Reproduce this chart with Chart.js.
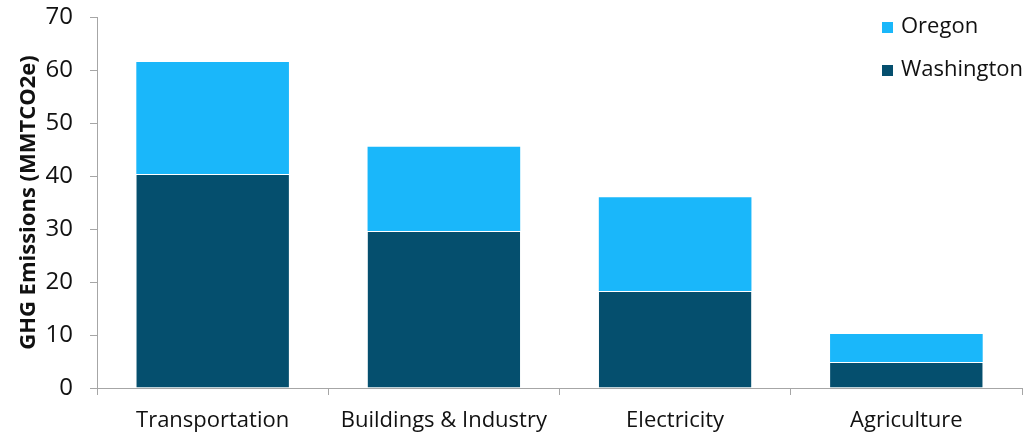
<!DOCTYPE html>
<html>
<head>
<meta charset="utf-8">
<script src="https://cdn.jsdelivr.net/npm/chart.js@4"></script>
<style>
  html, body { margin: 0; padding: 0; background: #fff; overflow: hidden; }
</style>
</head>
<body>
<canvas id="chart" width="1032" height="435"></canvas>
<script>
// ===== Datos =====
const sectors = ['Transportation', 'Buildings & Industry', 'Electricity', 'Agriculture'];
const washington = [40.4, 29.6, 18.3, 4.9];
const oregon = [21.1, 15.9, 17.7, 5.3];
const yTicks = [0, 10, 20, 30, 40, 50, 60, 70];

const FONT = '"Open Sans", sans-serif';
const axisGrey = '#a6a6a6';
const textColor = '#111';

// leyenda dibujada a mano, arriba a la derecha
const legendPlugin = {
  id: 'sideLegend',
  afterDraw(chart) {
    const ctx = chart.ctx;
    const items = [
      { text: 'Oregon', color: '#1ab7fa' },
      { text: 'Washington', color: '#054f6e' }
    ];
    ctx.save();
    ctx.font = '22px ' + FONT;
    ctx.textBaseline = 'middle';
    items.forEach((it, i) => {
      const y = 27 + i * 43;
      ctx.fillStyle = it.color;
      ctx.fillRect(882, y - 5, 11, 11);
      ctx.fillStyle = textColor;
      ctx.fillText(it.text, 901, y);
    });
    ctx.restore();
  }
};

new Chart(document.getElementById('chart').getContext('2d'), {
  type: 'bar',
  data: {
    labels: sectors,
    datasets: [
      { label: 'Washington', data: washington, backgroundColor: '#054f6e',
        borderColor: '#ffffff', borderWidth: { top: 1, left: 0, right: 0, bottom: 0 }, borderSkipped: false,
        categoryPercentage: 1, barPercentage: 0.66 },
      { label: 'Oregon', data: oregon, backgroundColor: '#1ab7fa',
        borderWidth: 0, categoryPercentage: 1, barPercentage: 0.66 }
    ]
  },
  options: {
    responsive: false,
    animation: false,
    layout: { padding: { top: 17, right: 10, left: 0, bottom: 0 } },
    plugins: { legend: { display: false }, tooltip: { enabled: false } },
    scales: {
      x: {
        stacked: true,
        offset: true,
        grid: { offset: true, drawOnChartArea: false, drawTicks: true, tickLength: 7, color: axisGrey },
        border: { color: axisGrey, width: 1 },
        ticks: { font: { family: FONT, size: 22 }, color: textColor, padding: 13, maxRotation: 0, autoSkip: false },
        afterFit(axis) { axis.height = 47; }
      },
      y: {
        stacked: true,
        min: 0,
        max: 70,
        afterBuildTicks(axis) { axis.ticks = yTicks.map(v => ({ value: v })); },
        grid: { drawOnChartArea: false, drawTicks: true, tickLength: 7, color: axisGrey },
        border: { color: axisGrey, width: 1 },
        ticks: { font: { family: FONT, size: 24 }, color: textColor, padding: 17 },
        title: { display: true, text: 'GHG Emissions (MMTCO2e)', font: { family: FONT, size: 22, weight: 'bold' }, color: textColor, padding: { top: 16, bottom: 0 } },
        afterFit(axis) { axis.width = 97; axis.paddingTop = 0; axis.paddingBottom = 0; }
      }
    }
  },
  plugins: [legendPlugin]
});
</script>
</body>
</html>
